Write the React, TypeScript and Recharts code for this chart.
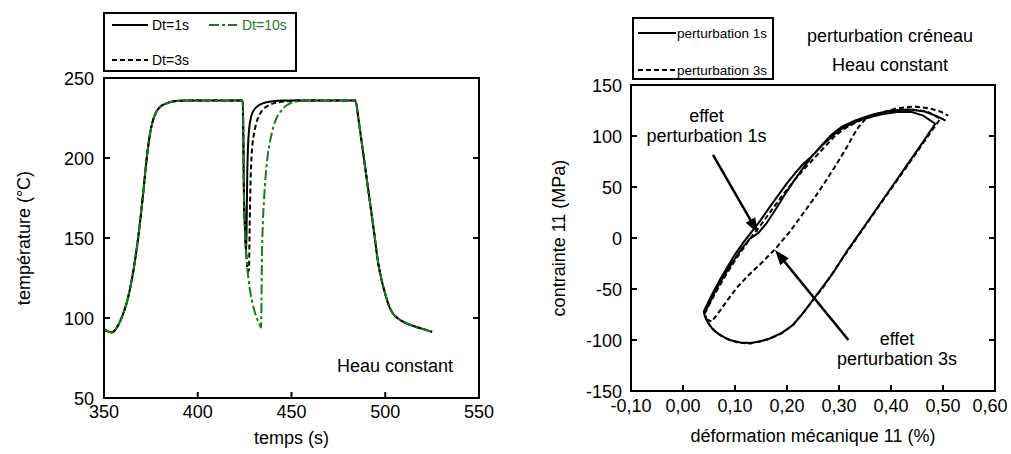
import React from 'react';
import { LineChart, Line, XAxis, YAxis, ReferenceDot, ReferenceLine, Legend } from 'recharts';

const FONT = '"Liberation Sans", Arial, Helvetica, sans-serif';
const GREEN = '#1d7a1d';
const TICK = 6;

// ---------- left chart: temperature vs time ----------
const timeTicks = [350, 400, 450, 500, 550];
const tempTicks = [50, 100, 150, 200, 250];

const heatingShared: [number, number][] = [
  [350, 93], [352, 91.6], [354, 91], [356, 92.5], [358, 96.5], [360, 102], [362, 109],
  [364, 119], [366, 132], [368, 148], [370, 168], [372, 191], [373, 202], [374, 211],
  [375, 218], [376, 223], [377, 226.5], [378, 229], [380, 232], [383, 234], [386, 235.2],
  [390, 235.8], [395, 236], [410, 236], [424, 236],
];
const dropDt1s: [number, number][] = [
  [424.3, 214], [424.6, 180], [425.2, 156], [425.8, 140], [426.1, 162], [426.4, 190],
  [426.8, 207], [427.5, 219], [428.5, 226], [430, 230], [432, 232.5], [435, 234.3],
  [440, 235.4], [446, 235.9], [452, 236],
];
const dropDt3s: [number, number][] = [
  [424.3, 214], [424.6, 180], [425.2, 156], [426, 138], [426.8, 129], [427.3, 130],
  [427.7, 158], [428.1, 182], [428.8, 203], [430.5, 218], [433.2, 227.5], [436, 231.5],
  [438.5, 233.3], [443, 234.8], [447.4, 235.5], [455, 236],
];
const dropDt10s: [number, number][] = [
  [424.3, 214], [424.6, 180], [425.2, 156], [426, 138], [427, 125], [428, 116.5],
  [429, 110], [430.5, 103.5], [431.5, 100], [432.5, 97], [433.3, 95], [433.8, 94],
  [434.0, 110], [434.2, 135], [434.6, 155], [435.3, 173], [436.3, 190], [437.5, 203],
  [438.5, 210], [440, 218], [442, 225], [444.5, 229.5], [447.5, 233], [450, 234.5],
  [453, 235.4], [458, 236],
];
const coolingShared: [number, number][] = [
  [470, 236], [484, 236], [486, 222], [488, 205], [490, 188], [492, 171], [494, 154],
  [496, 136], [498, 124], [500, 115], [502, 107.5], [504, 103], [507, 99.5], [511, 96.8],
  [515, 95], [520, 93.2], [525, 91.3],
];

const toTemp = (rows: [number, number][]) => rows.map(([t, T]) => ({ t, T }));
const seriesDt1 = toTemp([...heatingShared, ...dropDt1s, ...coolingShared]);
const seriesDt3 = toTemp([...heatingShared, ...dropDt3s, ...coolingShared]);
const seriesDt10 = toTemp([...heatingShared, ...dropDt10s, ...coolingShared]);

// ---------- right chart: stress vs strain ----------
const strainTicks = [-0.1, 0, 0.1, 0.2, 0.3, 0.4, 0.5, 0.6];
const stressTicks = [-150, -100, -50, 0, 50, 100, 150];

const loop1sLoading: [number, number][] = [
  [0.040, -72], [0.055, -56], [0.071, -41], [0.086, -28], [0.100, -16], [0.118, -3],
  [0.135, 8], [0.150, 18], [0.165, 29], [0.182, 41], [0.199, 53], [0.215, 63], [0.230, 72],
  [0.245, 79], [0.257, 85], [0.270, 92], [0.285, 99], [0.302, 106], [0.320, 111],
  [0.347, 117], [0.380, 121], [0.411, 123.5], [0.440, 123.5], [0.462, 120], [0.485, 112],
];
const loop1sUnloading: [number, number][] = [
  [0.460, 93], [0.430, 71], [0.400, 49], [0.370, 27], [0.340, 5], [0.315, -13],
  [0.289, -34], [0.270, -47], [0.251, -60], [0.232, -73], [0.212, -85], [0.190, -93],
  [0.167, -98.5], [0.148, -101.5], [0.129, -103], [0.110, -102.5], [0.090, -100],
  [0.072, -95.5], [0.058, -90], [0.048, -83], [0.042, -77], [0.040, -72],
];
const loop1sPerturbed: [number, number][] = [
  [0.047, -68], [0.062, -52], [0.078, -38], [0.095, -24], [0.112, -11], [0.128, -1],
  [0.145, 5], [0.160, 14], [0.178, 28], [0.195, 42], [0.212, 55], [0.230, 68],
  [0.248, 80], [0.265, 90], [0.285, 101], [0.305, 109], [0.330, 115], [0.365, 121],
  [0.400, 125], [0.435, 126], [0.465, 124], [0.490, 119], [0.505, 115],
];
const loop3sLoading: [number, number][] = [
  [0.042, -74], [0.060, -56], [0.078, -40], [0.095, -26], [0.112, -13], [0.130, 0],
  [0.150, 13], [0.170, 27], [0.190, 41], [0.210, 54], [0.230, 66], [0.250, 77],
  [0.270, 88], [0.290, 99], [0.310, 107], [0.335, 114], [0.360, 119], [0.400, 124],
  [0.440, 126], [0.470, 124], [0.495, 117],
];
const loop3sUnloading: [number, number][] = [
  [0.470, 99], [0.440, 77], [0.400, 48], [0.360, 19], [0.330, -3], [0.300, -25],
  [0.270, -48], [0.250, -61], [0.230, -74], [0.210, -86], [0.188, -94], [0.165, -99],
  [0.130, -103.5], [0.105, -102.5], [0.085, -99], [0.065, -93], [0.052, -86],
  [0.045, -80], [0.043, -76],
];
const loop3sPerturbed: [number, number][] = [
  [0.047, -80], [0.055, -82], [0.070, -72], [0.087, -60], [0.103, -49], [0.125, -37],
  [0.150, -25], [0.177, -11], [0.205, 6], [0.231, 24], [0.255, 41], [0.276, 57],
  [0.296, 73], [0.315, 89], [0.328, 101], [0.338, 109], [0.350, 116], [0.375, 122],
  [0.410, 127], [0.445, 129], [0.475, 127], [0.495, 124], [0.510, 120],
];

const toStress = (rows: [number, number][]) => rows.map(([e, s]) => ({ e, s }));
const series1s = toStress([...loop1sLoading, ...loop1sUnloading, ...loop1sPerturbed]);
const series3s = toStress([...loop3sLoading, ...loop3sUnloading, ...loop3sPerturbed]);

// annotation anchors (data coordinates)
const arrow1s = [{ x: 0.0577, y: 81.4 }, { x: 0.144, y: 4.9 }];
const arrow3s = [{ x: 0.318, y: -100 }, { x: 0.177, y: -11.8 }];

// ---------- helpers ----------
const fmtInt = (v: number) => String(v);
const fmtComma = (v: number) => v.toFixed(2).replace('.', ',');

const BottomTick = (fmt: (v: number) => string, gap: number, maxX: number) => (p: any) => (
  <g>
    <line x1={p.x} y1={p.y} x2={p.x} y2={p.y - TICK} stroke="#000" strokeWidth={2} />
    <text x={Math.min(p.x, maxX)} y={p.y + gap} textAnchor="middle" fontSize={18} fontFamily={FONT} fill="#000">
      {fmt(p.payload.value)}
    </text>
  </g>
);
const LeftTick = (fmt: (v: number) => string, gap: number) => (p: any) => (
  <g>
    <line x1={p.x} y1={p.y} x2={p.x + TICK} y2={p.y} stroke="#000" strokeWidth={2} />
    <text x={p.x - gap} y={p.y + 6.5} textAnchor="end" fontSize={18} fontFamily={FONT} fill="#000">
      {fmt(p.payload.value)}
    </text>
  </g>
);
const TopTick = (p: any) => (
  <line x1={p.x} y1={p.y} x2={p.x} y2={p.y + TICK} stroke="#000" strokeWidth={2} />
);
const RightTick = (p: any) => (
  <line x1={p.x} y1={p.y} x2={p.x - TICK} y2={p.y} stroke="#000" strokeWidth={2} />
);

const xTitle = (text: string, dy: number) => (p: any) => {
  const vb = p.viewBox;
  return (
    <text x={vb.x + vb.width / 2} y={vb.y + dy} textAnchor="middle" fontSize={18} fontFamily={FONT} fill="#000">
      {text}
    </text>
  );
};
const yTitle = (text: string, dx: number) => (p: any) => {
  const vb = p.viewBox;
  const cx = vb.x + dx;
  const cy = vb.y + vb.height / 2;
  return (
    <text x={cx} y={cy} transform={`rotate(-90 ${cx} ${cy})`} textAnchor="middle" fontSize={18} fontFamily={FONT} fill="#000">
      {text}
    </text>
  );
};

const Note = (lines: string[]) => (p: any) => (
  <text textAnchor="middle" fontSize={18} fontFamily={FONT} fill="#000">
    {lines.map((l, i) => (
      <tspan key={i} x={p.cx} y={lines.length === 1 ? p.cy + 6.5 : p.cy - 3.5 + i * 20}>
        {l}
      </tspan>
    ))}
  </text>
);

const Arrow = (p: any) => {
  const { x1, y1, x2, y2 } = p;
  const dx = x2 - x1;
  const dy = y2 - y1;
  const len = Math.hypot(dx, dy) || 1;
  const ux = dx / len;
  const uy = dy / len;
  const hl = 15;
  const hw = 5.5;
  const bx = x2 - ux * hl;
  const by = y2 - uy * hl;
  const pts = `${x2},${y2} ${bx - uy * hw},${by + ux * hw} ${bx + uy * hw},${by - ux * hw}`;
  return (
    <g>
      <line x1={x1} y1={y1} x2={bx + ux * 2} y2={by + uy * 2} stroke="#000" strokeWidth={2.5} />
      <polygon points={pts} fill="#000" />
    </g>
  );
};

const axisLine = { stroke: '#000', strokeWidth: 2, strokeLinecap: 'square' as const };

const LeftLegend = () => (
  <svg width={194} height={60} style={{ display: 'block' }}>
    <rect x={1} y={1} width={192} height={58} fill="#fff" stroke="#000" strokeWidth={2} />
    <line x1={9} y1={13} x2={45} y2={13} stroke="#000" strokeWidth={2} />
    <text x={49} y={18} fontSize={14} fontFamily={FONT} fill="#000">Dt=1s</text>
    <line x1={106} y1={13} x2={134} y2={13} stroke={GREEN} strokeWidth={2} strokeDasharray="10 3 3 3" />
    <text x={139} y={18} fontSize={14} fontFamily={FONT} fill={GREEN}>Dt=10s</text>
    <line x1={9} y1={48} x2={45} y2={48} stroke="#000" strokeWidth={2} strokeDasharray="5 3" />
    <text x={49} y={53} fontSize={14} fontFamily={FONT} fill="#000">Dt=3s</text>
  </svg>
);

const RightLegend = () => (
  <svg width={142} height={63} style={{ display: 'block' }}>
    <rect x={1} y={1} width={140} height={61} fill="#fff" stroke="#000" strokeWidth={2} />
    <line x1={6} y1={16} x2={44} y2={16} stroke="#000" strokeWidth={2} />
    <text x={45} y={21} fontSize={13.5} fontFamily={FONT} fill="#000">perturbation 1s</text>
    <line x1={6} y1={53} x2={44} y2={53} stroke="#000" strokeWidth={2} strokeDasharray="5 3" />
    <text x={45} y={58} fontSize={13.5} fontFamily={FONT} fill="#000">perturbation 3s</text>
  </svg>
);

export default function App() {
  return (
    <div style={{ position: 'absolute', left: 0, top: 0, width: 1011, height: 454, background: '#fff', fontFamily: FONT, overflow: 'hidden' }}>
      <div style={{ position: 'absolute', left: 0, top: 0 }}>
        <LineChart width={500} height={454} margin={{ top: 77, right: 20, bottom: 26, left: 44 }}>
          <XAxis
            type="number" dataKey="t" domain={[350, 550]} ticks={timeTicks} allowDataOverflow interval={0}
            height={30} tickSize={0} tickMargin={0} tickLine={false} axisLine={axisLine}
            tick={BottomTick(fmtInt, 20, 1000)} label={xTitle('temps (s)', 46)}
          />
          <XAxis
            xAxisId="top" orientation="top" type="number" domain={[350, 550]} ticks={timeTicks} allowDataOverflow
            interval={0} height={1} tickSize={0} tickMargin={0} tickLine={false} axisLine={axisLine} tick={TopTick}
          />
          <YAxis
            type="number" domain={[50, 250]} ticks={tempTicks} allowDataOverflow interval={0} width={60}
            tickSize={0} tickMargin={0} tickLine={false} axisLine={axisLine}
            tick={LeftTick(fmtInt, 10)} label={yTitle('température (°C)', -14)}
          />
          <YAxis
            yAxisId="right" orientation="right" type="number" domain={[50, 250]} ticks={tempTicks} allowDataOverflow
            interval={0} width={1} tickSize={0} tickMargin={0} tickLine={false} axisLine={axisLine} tick={RightTick}
          />
          <Legend
            layout="vertical" align="center" verticalAlign="middle"
            content={() => <LeftLegend />}
            wrapperStyle={{ top: 12, left: 103, width: 194, height: 60, margin: 0, padding: 0 }}
          />
          <Line data={seriesDt1} dataKey="T" type="monotone" stroke="#000" strokeWidth={2} dot={false} activeDot={false} isAnimationActive={false} />
          <Line data={seriesDt3} dataKey="T" type="monotone" stroke="#000" strokeWidth={2} strokeDasharray="5 3" dot={false} activeDot={false} isAnimationActive={false} />
          <Line data={seriesDt10} dataKey="T" type="monotone" stroke={GREEN} strokeWidth={2} strokeDasharray="10 3 3 3" dot={false} activeDot={false} isAnimationActive={false} />
          <ReferenceDot x={505.2} y={70.6} r={1} shape={Note(['Heau constant'])} />
        </LineChart>
      </div>

      <div style={{ position: 'absolute', left: 520, top: 0 }}>
        <LineChart width={491} height={454} margin={{ top: 84, right: 15, bottom: 33, left: 51 }}>
          <XAxis
            type="number" dataKey="e" domain={[-0.1, 0.6]} ticks={strainTicks} allowDataOverflow interval={0}
            height={30} tickSize={0} tickMargin={0} tickLine={false} axisLine={axisLine}
            tick={BottomTick(fmtComma, 21, 470)} label={xTitle('déformation mécanique 11 (%)', 51)}
          />
          <XAxis
            xAxisId="top" orientation="top" type="number" domain={[-0.1, 0.6]} ticks={strainTicks} allowDataOverflow
            interval={0} height={1} tickSize={0} tickMargin={0} tickLine={false} axisLine={axisLine} tick={TopTick}
          />
          <YAxis
            type="number" domain={[-150, 150]} ticks={stressTicks} allowDataOverflow interval={0} width={60}
            tickSize={0} tickMargin={0} tickLine={false} axisLine={axisLine}
            tick={LeftTick(fmtInt, 9)} label={yTitle('contrainte 11 (MPa)', -6)}
          />
          <YAxis
            yAxisId="right" orientation="right" type="number" domain={[-150, 150]} ticks={stressTicks} allowDataOverflow
            interval={0} width={1} tickSize={0} tickMargin={0} tickLine={false} axisLine={axisLine} tick={RightTick}
          />
          <Legend
            layout="vertical" align="center" verticalAlign="middle"
            content={() => <RightLegend />}
            wrapperStyle={{ top: 17, left: 112, width: 142, height: 63, margin: 0, padding: 0 }}
          />
          <Line data={series1s} dataKey="s" type="linear" stroke="#000" strokeWidth={2} dot={false} activeDot={false} isAnimationActive={false} />
          <Line data={series3s} dataKey="s" type="linear" stroke="#000" strokeWidth={2} strokeDasharray="5 3" dot={false} activeDot={false} isAnimationActive={false} />
          <ReferenceLine segment={arrow1s} shape={Arrow} />
          <ReferenceLine segment={arrow3s} shape={Arrow} />
          <ReferenceDot x={0.0452} y={110.3} r={1} shape={Note(['effet', 'perturbation 1s'])} />
          <ReferenceDot x={0.4115} y={-108.3} r={1} shape={Note(['effet', 'perturbation 3s'])} />
        </LineChart>
      </div>

      <svg style={{ position: 'absolute', left: 780, top: 15 }} width={220} height={70}>
        <text x={110} y={27} textAnchor="middle" fontSize={18} fontFamily={FONT} fill="#000">perturbation créneau</text>
        <text x={110} y={56} textAnchor="middle" fontSize={18} fontFamily={FONT} fill="#000">Heau constant</text>
      </svg>
    </div>
  );
}
